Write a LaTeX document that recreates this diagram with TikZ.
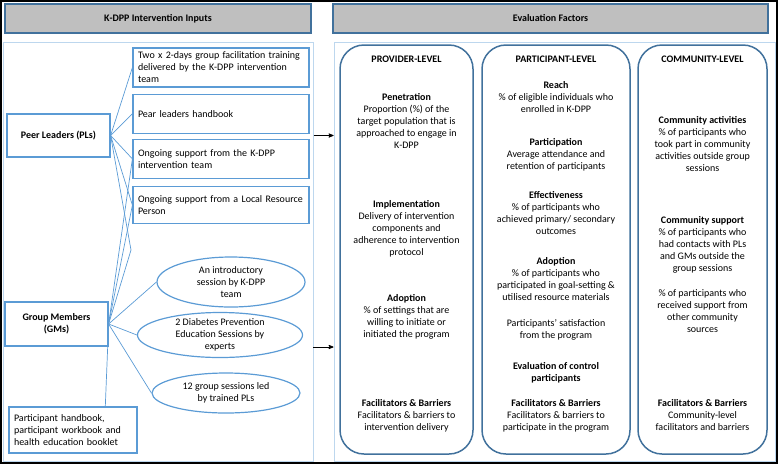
\documentclass[tikz,border=0pt]{standalone}
\usepackage{fontspec}
\setmainfont{Carlito}
\usetikzlibrary{arrows,positioning,calc,shapes.geometric}
\definecolor{boxblue}{HTML}{5B9BD5}
\definecolor{darkblue}{HTML}{41719C}
\definecolor{lightblue}{HTML}{BDD7EE}
\definecolor{hdrgray}{HTML}{BFBFBF}

\begin{document}
\begin{tikzpicture}[x=1pt, y=-1pt, >=stealth', font=\fontsize{10}{12}\selectfont]
\tikzstyle{hdr}=[draw=darkblue, fill=hdrgray, line width=1.2pt, minimum height=29pt, font=\fontsize{10}{12}\selectfont\bfseries]
\tikzstyle{frame}=[draw=lightblue, line width=1pt, minimum height=419pt]
\tikzstyle{level}=[draw=darkblue, line width=1.5pt, rounded corners=24pt, minimum height=409pt]
\tikzstyle{input}=[draw=boxblue, line width=1.2pt, minimum width=176pt, text width=166pt, inner xsep=5pt, align=left]
\tikzstyle{group}=[draw=boxblue, line width=1.2pt, minimum width=103pt, align=center, font=\fontsize{10}{12}\selectfont\bfseries]
\tikzstyle{session}=[ellipse, draw=boxblue, line width=1.2pt, inner sep=-4pt, align=center]
\tikzstyle{link}=[draw=boxblue, line width=0.7pt]
\tikzstyle{txt}=[anchor=north, align=center, inner sep=0pt]

\useasboundingbox (0,0) rectangle (778,464);
\draw[line width=2pt] (1,1) rectangle (777,463);

\node[hdr, minimum width=306pt] (inh) at (158,18.5) {K-DPP Intervention Inputs};
\node[hdr, minimum width=435pt] (evh) at (550.5,18.5) {Evaluation Factors};
\node[frame, minimum width=310pt] (inp) at (158,251.5) {};
\node[frame, minimum width=441pt] (evl) at (554.5,251.5) {};

\node[group, minimum height=43pt] (pl) at (58.5,135.5) {Peer Leaders (PLs)};
\node[input, minimum height=39pt] (tr) at (221,67.5) {Two x 2-days group facilitation training\\delivered by the K-DPP intervention\\team};
\node[input, minimum height=39pt] (hb) [below=6pt of tr] {Pear leaders handbook};
\node[input, minimum height=39pt] (os) [below=5pt of hb] {Ongoing support from the K-DPP\\intervention team};
\node[input, minimum height=37pt] (lr) [below=7pt of os] {Ongoing support from a Local Resource\\Person};

\node[group, minimum height=44pt] (gm) at (56.5,324) {Group Members\\(GMs)};
\node[session, minimum width=148pt, minimum height=50pt] (e1) at (231,282) {An introductory\\session by K-DPP\\team};
\node[session, minimum width=165pt, minimum height=45pt] (e2) at (220,335) {2 Diabetes Prevention\\Education Sessions by\\experts};
\node[session, minimum width=148pt, minimum height=40pt] (e3) at (226,393) {12 group sessions led\\by trained PLs};
\node[input, minimum width=128pt, text width=118pt, minimum height=46pt] (pb) at (73,430) {Participant handbook,\\participant workbook and\\health education booklet};

\coordinate (apex) at (131,250);
\coordinate (gmout) at (313,347);

\path[link]
(pl.east) edge (tr.west)
(pl.east) edge (hb.west)
(pl.east) edge (os.west)
(pl.east) edge (lr.west)
(pl.east) edge (apex)
(gm.east) edge (apex)
(gm.east) edge (lr.west)
(gm.east) edge (os.west)
(gm.east) edge (e1.west)
(gm.east) edge (e2.west)
(gm.east) edge (e3.west)
(gm.east) edge ($(pb.north west)!0.75!(pb.north east)$);

\draw[->, line width=0.8pt] (inp.east |- pl.east) -- (evl.west |- pl.east);
\draw[->, line width=0.8pt] (gmout) -- (evl.west |- gmout);

\node[level, minimum width=133pt] (prv) at (406.5,249.5) {};
\node[level, minimum width=148pt] (ptc) at (556,249.5) {};
\node[level, minimum width=129pt] (cmn) at (702.5,249.5) {};

\node[txt] (pvh) at (406.5,56) {\textbf{PROVIDER-LEVEL}};
\node[txt] (pen) at (406.5,93) {\textbf{Penetration}\\Proportion (\%) of the\\target population that is\\approached to engage in\\K-DPP};
\node[txt] (imp) at (406.5,200) {\textbf{Implementation}\\Delivery of intervention\\components and\\adherence to intervention\\protocol};
\node[txt] (pad) at (406.5,294) {\textbf{Adoption}\\\% of settings that are\\willing to initiate or\\initiated the program};
\node[txt] (pfb) at (406.5,399) {\textbf{Facilitators \& Barriers}\\Facilitators \& barriers to\\intervention delivery};

\node[txt] (pth) at (556,56) {\textbf{PARTICIPANT-LEVEL}};
\node[txt] (rch) at (556,81) {\textbf{Reach}\\\% of eligible individuals who\\enrolled in K-DPP};
\node[txt] (prt) at (556,138) {\textbf{Participation}\\Average attendance and\\retention of participants};
\node[txt] (eff) at (556,191) {\textbf{Effectiveness}\\\% of participants who\\achieved primary/ secondary\\outcomes};
\node[txt] (tad) at (556,257) {\textbf{Adoption}\\\% of participants who\\participated in goal-setting \&\\utilised resource materials};
\node[txt] (sat) at (556,319) {Participants' satisfaction\\from the program};
\node[txt] (ctl) at (556,362) {\textbf{Evaluation of control}\\\textbf{participants}};
\node[txt] (tfb) at (556,399) {\textbf{Facilitators \& Barriers}\\Facilitators \& barriers to\\participate in the program};

\node[txt] (cmh) at (702.5,56) {\textbf{COMMUNITY-LEVEL}};
\node[txt] (cact) at (702.5,116) {\textbf{Community activities}\\\% of participants who\\took part in community\\activities outside group\\sessions};
\node[txt] (csup) at (702.5,216) {\textbf{Community support}\\\% of participants who\\had contacts with PLs\\and GMs outside the\\group sessions};
\node[txt] (csrc) at (702.5,289) {\% of participants who\\received support from\\other community\\sources};
\node[txt] (cfb) at (702.5,399) {\textbf{Facilitators \& Barriers}\\Community-level\\facilitators and barriers};
\end{tikzpicture}
\end{document}
